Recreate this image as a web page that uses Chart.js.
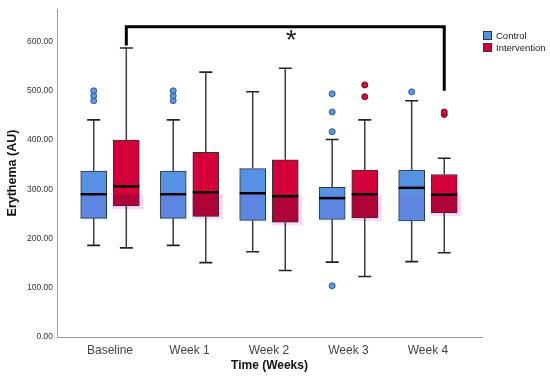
<!DOCTYPE html>
<html>
<head>
<meta charset="utf-8">
<script src="https://cdn.jsdelivr.net/npm/chart.js@4.4.1/dist/chart.umd.min.js"></script>
<style>
  html, body { margin: 0; padding: 0; background: #fff; }
</style>
</head>
<body>
<canvas id="erythemaChart" width="550" height="384"></canvas>
<script>
// Categories and tick labels
const categories = ['Baseline', 'Week 1', 'Week 2', 'Week 3', 'Week 4'];
const yTicks = [0, 100, 200, 300, 400, 500, 600];

// Control group box statistics
const controlMin = [186, 186, 173, 152, 153];
const controlQ1 = [241, 241, 237, 239, 236];
const controlMedian = [290, 290, 292, 282, 303];
const controlQ3 = [337, 337, 342, 304, 339];
const controlMax = [441, 441, 498, 401, 480];
const controlOutliers = [[480, 490, 500], [480, 490, 500], [], [104, 417, 457, 494], [498]];

// Intervention group box statistics
const interventionMin = [181, 151, 135, 123, 171];
const interventionQ1 = [266, 245, 233, 242, 252];
const interventionMedian = [306, 294, 286, 290, 289];
const interventionQ3 = [400, 375, 360, 339, 330];
const interventionMax = [587, 538, 546, 441, 363];
const interventionOutliers = [[], [], [], [488, 512], [452, 457]];

// Significance bracket (Baseline vs Week 4, intervention)
const bracketTop = 630;
const bracketLeftEnd = 592;
const bracketRightEnd = 500;
const bracketLabel = '*';

const groupOffset = 0.205;
const highlightTop = 290;  // the washed band on the lower part of each box

const series = [
  {
    name: 'Control', shift: -groupOffset,
    min: controlMin, q1: controlQ1, median: controlMedian, q3: controlQ3, max: controlMax,
    outliers: controlOutliers,
    color: '#5592e3', pointColor: '#5b97e2', pointBorder: '#2b5a9c',
    halo: 'rgba(190,255,250,0.25)', tint: 'rgba(120,90,210,0.22)'
  },
  {
    name: 'Intervention', shift: groupOffset,
    min: interventionMin, q1: interventionQ1, median: interventionMedian, q3: interventionQ3, max: interventionMax,
    outliers: interventionOutliers,
    color: '#d3003a', pointColor: '#d0103a', pointBorder: '#7a0020',
    halo: 'rgba(255,110,225,0.28)', tint: 'rgba(80,10,50,0.28)'
  }
];

function boxData(s) {
  return categories.map((c, i) => ({ x: i + s.shift, y: [s.q1[i], s.q3[i]] }));
}

function outlierData(s) {
  const pts = [];
  s.outliers.forEach((vals, i) => vals.forEach(v => pts.push({ x: i + s.shift, y: v })));
  return pts;
}

// Whiskers, medians, bracket and legend drawn on the chart scales
const boxPlugin = {
  id: 'boxWhiskers',
  beforeDatasetsDraw(chart) {
    const { ctx, scales: { x, y } } = chart;
    ctx.save();
    series.forEach(s => {
      categories.forEach((c, i) => {
        const cx = x.getPixelForValue(i + s.shift);
        const top = y.getPixelForValue(highlightTop);
        const bottom = y.getPixelForValue(s.q1[i]) + 3;
        ctx.fillStyle = s.halo;
        ctx.fillRect(cx - 14, top, 31, bottom - top);
      });
    });
    ctx.restore();
  },
  afterDatasetsDraw(chart) {
    const { ctx, scales: { x, y } } = chart;
    ctx.save();
    series.forEach(s => {
      categories.forEach((c, i) => {
        const cx = x.getPixelForValue(i + s.shift);
        const half = 13;

        // tint over the lower part of the box
        const tTop = y.getPixelForValue(highlightTop);
        const tBot = y.getPixelForValue(s.q1[i]);
        ctx.fillStyle = s.tint;
        ctx.fillRect(cx - half + 1, tTop, 2 * half - 2, tBot - tTop);

        // whiskers
        ctx.strokeStyle = '#3c3c3c';
        ctx.lineWidth = 1.5;
        ctx.beginPath();
        ctx.moveTo(cx, y.getPixelForValue(s.q3[i]));
        ctx.lineTo(cx, y.getPixelForValue(s.max[i]));
        ctx.moveTo(cx, y.getPixelForValue(s.q1[i]));
        ctx.lineTo(cx, y.getPixelForValue(s.min[i]));
        ctx.stroke();

        // caps
        ctx.strokeStyle = '#222';
        ctx.lineWidth = 1.6;
        ctx.beginPath();
        ctx.moveTo(cx - 6.5, y.getPixelForValue(s.max[i]));
        ctx.lineTo(cx + 6.5, y.getPixelForValue(s.max[i]));
        ctx.moveTo(cx - 6.5, y.getPixelForValue(s.min[i]));
        ctx.lineTo(cx + 6.5, y.getPixelForValue(s.min[i]));
        ctx.stroke();

        // median
        ctx.strokeStyle = '#000';
        ctx.lineWidth = 2.5;
        ctx.beginPath();
        ctx.moveTo(cx - half, y.getPixelForValue(s.median[i]));
        ctx.lineTo(cx + half, y.getPixelForValue(s.median[i]));
        ctx.stroke();
      });
    });

    // significance bracket
    const xl = x.getPixelForValue(0 + groupOffset);
    const xr = x.getPixelForValue(categories.length - 1 + groupOffset);
    ctx.strokeStyle = '#000';
    ctx.lineWidth = 3;
    ctx.lineJoin = 'miter';
    ctx.beginPath();
    ctx.moveTo(xl, y.getPixelForValue(bracketLeftEnd));
    ctx.lineTo(xl, y.getPixelForValue(bracketTop));
    ctx.lineTo(xr, y.getPixelForValue(bracketTop));
    ctx.lineTo(xr, y.getPixelForValue(bracketRightEnd));
    ctx.stroke();

    ctx.fillStyle = '#222';
    ctx.font = '28px "Liberation Sans", Arial, sans-serif';
    ctx.textAlign = 'center';
    ctx.textBaseline = 'alphabetic';
    ctx.fillText(bracketLabel, x.getPixelForValue(2.28), y.getPixelForValue(bracketTop) + 22);

    // legend
    ctx.font = '9.5px "Liberation Sans", Arial, sans-serif';
    ctx.textAlign = 'left';
    ctx.textBaseline = 'middle';
    series.forEach((s, k) => {
      const ly = 31 + k * 12;
      ctx.fillStyle = s.color;
      ctx.fillRect(483, ly, 9, 9);
      ctx.strokeStyle = '#333';
      ctx.lineWidth = 1;
      ctx.strokeRect(483.5, ly + 0.5, 8, 8);
      ctx.fillStyle = '#222';
      ctx.fillText(s.name, 496, ly + 5);
    });
    ctx.restore();
  }
};

const datasets = [];
series.forEach(s => {
  datasets.push({
    type: 'bar',
    label: s.name,
    data: boxData(s),
    backgroundColor: s.color,
    borderColor: '#333',
    borderWidth: 1,
    borderSkipped: false,
    barThickness: 26,
    grouped: false
  });
});
series.forEach(s => {
  datasets.push({
    type: 'scatter',
    label: s.name + ' outliers',
    data: outlierData(s),
    pointRadius: 3,
    pointBackgroundColor: s.pointColor,
    pointBorderColor: s.pointBorder,
    pointBorderWidth: 1
  });
});

new Chart(document.getElementById('erythemaChart').getContext('2d'), {
  type: 'bar',
  data: { datasets },
  options: {
    responsive: false,
    animation: false,
    events: [],
    layout: { padding: { left: 0, right: 68, top: 5, bottom: 0 } },
    plugins: { legend: { display: false }, tooltip: { enabled: false } },
    scales: {
      x: {
        type: 'linear',
        offset: false,
        min: -0.667,
        max: 4.68,
        grid: { display: false, drawTicks: false },
        border: { display: true, color: '#999', width: 1 },
        afterBuildTicks: scale => { scale.ticks = categories.map((c, i) => ({ value: i })); },
        afterFit: scale => { scale.height = 47; },
        ticks: {
          padding: 6,
          color: '#444',
          font: { family: '"Liberation Sans", Arial, sans-serif', size: 12 },
          callback: v => categories[Math.round(v)]
        },
        title: {
          display: true,
          text: 'Time (Weeks)',
          color: '#111',
          font: { family: '"Liberation Sans", Arial, sans-serif', size: 12, weight: 'bold' },
          padding: { top: 0, bottom: 11 }
        }
      },
      y: {
        min: 0,
        max: 666,
        grid: { display: false, drawTicks: false },
        border: { display: true, color: '#999', width: 1 },
        afterBuildTicks: scale => { scale.ticks = yTicks.map(v => ({ value: v })); },
        afterFit: scale => { scale.width = 57; },
        ticks: {
          padding: 4,
          color: '#333',
          font: { family: '"Liberation Sans", Arial, sans-serif', size: 8.5 },
          callback: v => Number(v).toFixed(2)
        },
        title: {
          display: true,
          text: 'Erythema (AU)',
          color: '#111',
          font: { family: '"Liberation Sans", Arial, sans-serif', size: 12.5, weight: 'bold' },
          padding: { top: 5, bottom: 0 }
        }
      }
    }
  },
  plugins: [boxPlugin]
});
</script>
</body>
</html>
